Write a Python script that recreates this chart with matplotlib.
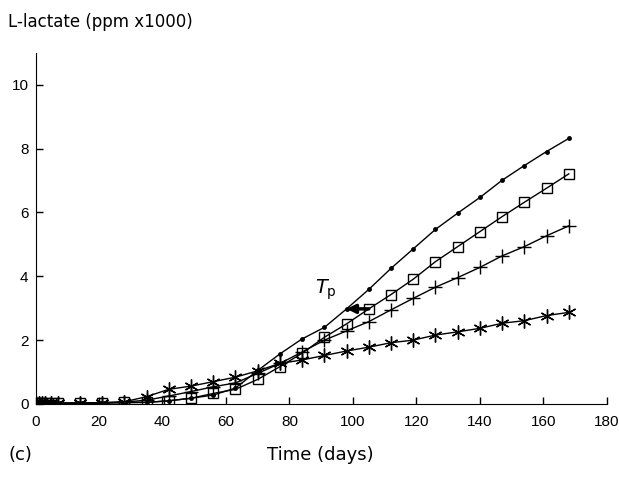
import matplotlib.pyplot as plt

# sampling days and L-lactate (ppm x1000) for the four treatments
days = [0, 1, 2, 3, 5, 7, 14, 21, 28, 35, 42, 49, 56, 63, 70, 77, 84,
        91, 98, 105, 112, 119, 126, 133, 140, 147, 154, 161, 168]

dot_values = [0.02, 0.02, 0.02, 0.02, 0.02, 0.02, 0.03, 0.03, 0.04, 0.05, 0.1,
              0.18, 0.28, 0.5, 1.05, 1.57, 2.04,
              2.4, 2.98, 3.59, 4.25, 4.86, 5.47, 5.98, 6.47, 7.01, 7.47, 7.91, 8.32]
square_values = [0.02, 0.02, 0.02, 0.02, 0.02, 0.02, 0.03, 0.03, 0.05, 0.05, 0.1,
                 0.18, 0.33, 0.46, 0.77, 1.17, 1.59,
                 2.09, 2.51, 2.98, 3.43, 3.91, 4.46, 4.93, 5.4, 5.87, 6.32, 6.76, 7.21]
plus_values = [0.02, 0.02, 0.02, 0.02, 0.02, 0.02, 0.03, 0.04, 0.06, 0.12, 0.25,
               0.39, 0.54, 0.66, 0.96, 1.27, 1.63,
               2.0, 2.29, 2.58, 2.95, 3.31, 3.66, 3.96, 4.28, 4.64, 4.93, 5.27, 5.58]
star_values = [0.02, 0.02, 0.02, 0.02, 0.02, 0.02, 0.03, 0.04, 0.07, 0.23, 0.46,
               0.56, 0.7, 0.84, 1.04, 1.27, 1.38,
               1.52, 1.66, 1.78, 1.92, 2.0, 2.16, 2.26, 2.37, 2.53, 2.61, 2.77, 2.87]

x_ticks = [0, 20, 40, 60, 80, 100, 120, 140, 160, 180]
y_ticks = [0, 2, 4, 6, 8, 10]

# Tp arrow: from the square curve back to the dot curve
tp_head = (98, 2.98)
tp_tail = (105, 2.98)

tick_font = ["Liberation Sans Narrow", "Liberation Sans", "DejaVu Sans"]

fig = plt.figure(figsize=(6.19, 4.79), dpi=100)
ax = fig.add_axes([0.0574, 0.1566, 0.923, 0.733])

ax.plot(days, dot_values, color="black", linewidth=1, marker="o", markersize=2.5)
ax.plot(days, square_values, color="black", linewidth=1, marker="s", markersize=7.5,
        markerfacecolor="none", markeredgewidth=1)
ax.plot(days, plus_values, color="black", linewidth=1, marker="+", markersize=10,
        markeredgewidth=1)
ax.plot(days, star_values, color="black", linewidth=1, marker=(6, 2, 0), markersize=10,
        markeredgewidth=1)

ax.annotate("", xy=tp_head, xytext=tp_tail,
            arrowprops=dict(arrowstyle="-|>,head_length=0.5,head_width=0.25",
                            color="black", linewidth=2.5,
                            shrinkA=0, shrinkB=0))
ax.text(88, 3.45, r"$T_{\mathrm{p}}$", fontsize=14)

ax.set_xlim(0, 180)
ax.set_ylim(0, 11)
ax.set_xticks(x_ticks)
ax.set_yticks(y_ticks)
ax.tick_params(direction="in", length=5, width=1, labelsize=11)
ax.tick_params(axis="x", pad=8)
ax.tick_params(axis="y", pad=5)
for label in ax.get_xticklabels() + ax.get_yticklabels():
    label.set_family(tick_font)
ax.spines["top"].set_visible(False)
ax.spines["right"].set_visible(False)

fig.text(0.013, 0.955, "L-lactate (ppm x1000)", fontsize=12, va="center")
fig.text(0.517, 0.05, "Time (days)", fontsize=13, ha="center", va="center")
fig.text(0.013, 0.05, "(c)", fontsize=13, va="center")

fig.savefig("out.png", dpi=100)
